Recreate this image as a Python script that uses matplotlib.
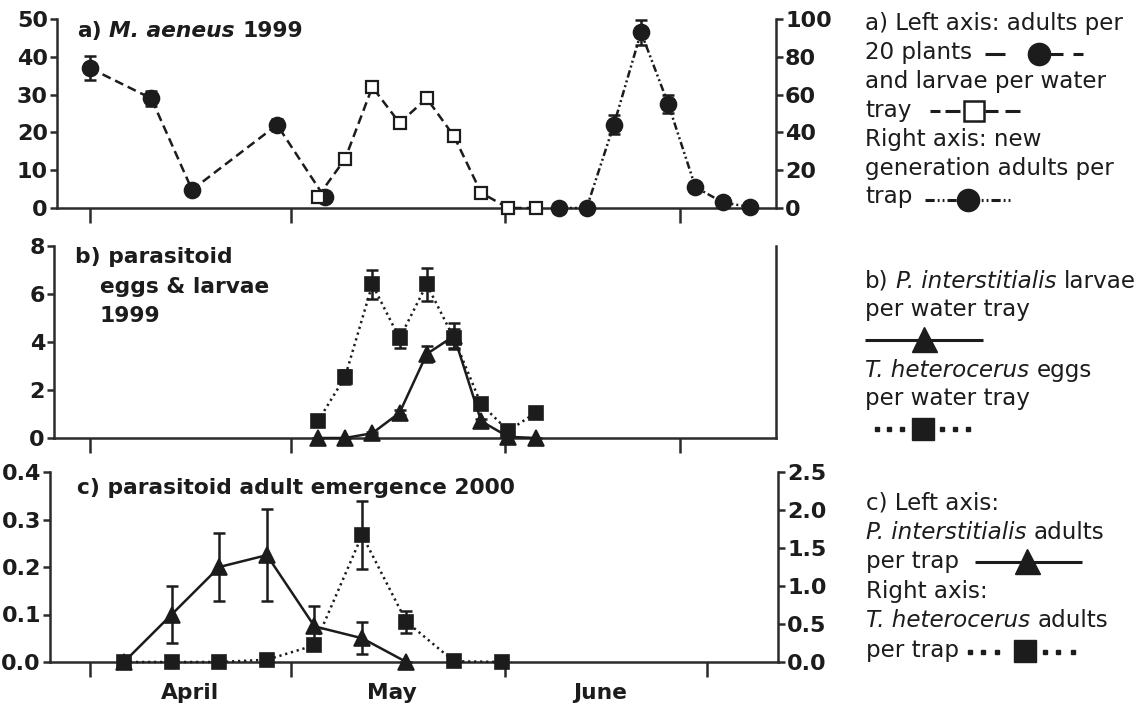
import matplotlib
matplotlib.use("Agg")
import matplotlib.pyplot as plt
from matplotlib.ticker import FormatStrFormatter

plt.rcParams['font.family'] = ['DejaVu Sans']
plt.rcParams['font.weight'] = 'bold'

W, H = 1142, 708
INK = '#1c1c1c'
SPINE = '#2b2b2b'
PX_DAY = 6.803   # pixels per day on the date axis
DAY0_PX = 90     # pixel column of 1 April
TICK_FS = 16

# x values are days after 1 April
# a) M. aeneus 1999
a_adult_day = [0, 9, 15, 27.5, 34.5]
a_adult = [37, 29, 4.8, 22, 2.8]
a_adult_err = [3.2, 2, 0.5, 1.5, 0.5]
a_larva_day = [33.5, 37.5, 41.5, 45.5, 49.5, 53.5, 57.5, 61.5, 65.5]
a_larva = [3, 13, 32, 22.5, 29, 19, 4, 0, 0]
a_larva_err = [0.4, 0.6, 1.0, 0.6, 1.0, 0.6, 0.3, 0, 0]
a_new_day = [69, 73, 77, 81, 85, 89, 93, 97]
a_new = [0, 0, 44, 93, 55, 11, 3, 0.5]
a_new_err = [0, 0, 5, 6.5, 5, 1.5, 0.5, 0]

# b) parasitoid eggs & larvae 1999
b_day = [33.5, 37.5, 41.5, 45.5, 49.5, 53.5, 57.5, 61.5, 65.5]
b_eggs = [0.7, 2.55, 6.4, 4.15, 6.4, 4.15, 1.4, 0.3, 1.05]
b_eggs_err = [0.05, 0.3, 0.6, 0.4, 0.7, 0.4, 0.2, 0.1, 0.05]
b_larva = [0, 0, 0.2, 1.05, 3.5, 4.25, 0.7, 0.05, 0]
b_larva_err = [0, 0, 0.05, 0.1, 0.35, 0.55, 0.1, 0, 0]

# c) parasitoid adult emergence 2000
c_pint_day = [5, 12, 19, 26, 33, 40, 46.5]
c_pint = [0, 0.1, 0.2, 0.225, 0.075, 0.05, 0]
c_pint_err = [0, 0.06, 0.072, 0.097, 0.042, 0.034, 0]
c_thet_day = [5, 12, 19, 26, 33, 40, 46.5, 53.5, 60.5]
c_thet = [0, 0, 0, 0.03, 0.22, 1.67, 0.53, 0.01, 0]
c_thet_err = [0, 0, 0, 0, 0.03, 0.45, 0.145, 0, 0]

month_ticks_ab = [0, 29.5, 61, 86.7]
month_ticks_c = [0, 29.5, 61, 90.7]
month_names = ['April', 'May', 'June']
month_mid = [14.7, 44.4, 75]

fig = plt.figure(figsize=(W / 100, H / 100), dpi=100)


def axes_px(l, r, t, b):
    ax = fig.add_axes([l / W, 1 - b / H, (r - l) / W, (b - t) / H])
    ax.set_xlim((l - DAY0_PX) / PX_DAY, (r - DAY0_PX) / PX_DAY)
    ax.set_facecolor('none')
    for s in ax.spines.values():
        s.set_linewidth(1.8)
        s.set_color(SPINE)
    ax.spines['top'].set_visible(False)
    ax.tick_params(axis='y', direction='out', length=5, width=1.8, pad=1.5,
                   labelsize=TICK_FS, color=SPINE, labelcolor=INK)
    ax.tick_params(axis='x', direction='out', length=11, width=1.8, color=SPINE)
    return ax


def twin(ax):
    ax2 = ax.twinx()
    ax.spines['right'].set_visible(False)
    for k in ['top', 'left', 'bottom']:
        ax2.spines[k].set_visible(False)
    ax2.spines['right'].set_linewidth(1.8)
    ax2.spines['right'].set_color(SPINE)
    ax2.tick_params(axis='y', direction='out', length=5, width=1.8, pad=1.5,
                    labelsize=TICK_FS, color=SPINE, labelcolor=INK)
    return ax2


def series(ax, x, y, err, marker, ms, ls, face=INK, mew=1.2):
    ax.errorbar(x, y, yerr=err, fmt='none', ecolor=INK, elinewidth=1.8,
                capsize=4.2, capthick=1.8, clip_on=False, zorder=2)
    ln, = ax.plot(x, y, color=INK, lw=1.8, marker=marker, ms=ms, mfc=face,
                  mec=INK, mew=mew, clip_on=False, zorder=3)
    if ls == 'solid':
        ln.set_linestyle('-')
    else:
        ln.set_dashes(ls)
    return ln


DASH = (3.6, 2.0)
DOT = (0.9, 1.5)
DASHDOTDOT = (3.0, 1.2, 0.8, 1.2, 0.8, 1.2)

# panel a
ax_a = axes_px(57, 776, 19, 208)
ax_a.set_ylim(0, 50)
ax_a.set_yticks([0, 10, 20, 30, 40, 50])
ax_a.set_xticks(month_ticks_ab)
ax_a.set_xticklabels([])
series(ax_a, a_adult_day, a_adult, a_adult_err, 'o', 11.5, DASH)
series(ax_a, a_larva_day, a_larva, a_larva_err, 's', 9, DASH, face='white', mew=1.6)
ax_a2 = twin(ax_a)
ax_a2.set_ylim(0, 100)
ax_a2.set_yticks([0, 20, 40, 60, 80, 100])
series(ax_a2, a_new_day, a_new, a_new_err, 'o', 11.5, DASHDOTDOT)

# panel b
ax_b = axes_px(54, 776, 246, 438)
ax_b.set_ylim(0, 8)
ax_b.set_yticks([0, 2, 4, 6, 8])
ax_b.set_xticks(month_ticks_ab)
ax_b.set_xticklabels([])
series(ax_b, b_day, b_larva, b_larva_err, '^', 11, 'solid')
series(ax_b, b_day, b_eggs, b_eggs_err, 's', 10.5, DOT)

# panel c
ax_c = axes_px(50, 778, 472, 662)
ax_c.set_ylim(0, 0.4)
ax_c.set_yticks([0, 0.1, 0.2, 0.3, 0.4])
ax_c.yaxis.set_major_formatter(FormatStrFormatter('%.1f'))
ax_c.set_xticks(month_ticks_c)
ax_c.set_xticklabels([])
ax_c.set_xticks(month_mid, minor=True)
ax_c.set_xticklabels(month_names, minor=True, fontsize=15.7, fontweight='bold', color=INK)
ax_c.tick_params(axis='x', which='minor', length=0, pad=15)
series(ax_c, c_pint_day, c_pint, c_pint_err, '^', 11, 'solid')
ax_c2 = twin(ax_c)
ax_c2.set_ylim(0, 2.5)
ax_c2.set_yticks([0, 0.5, 1.0, 1.5, 2.0, 2.5])
ax_c2.yaxis.set_major_formatter(FormatStrFormatter('%.1f'))
series(ax_c2, c_thet_day, c_thet, c_thet_err, 's', 10.5, DOT)

# overlay in pixel coordinates for titles and the key
ov = fig.add_axes([0, 0, 1, 1], zorder=10)
ov.set_xlim(0, W)
ov.set_ylim(H, 0)
ov.axis('off')
renderer = fig.canvas.get_renderer()


def text_w(s, size, style, weight):
    t = ov.text(0, 0, s, fontsize=size, fontstyle=style, fontweight=weight)
    w = t.get_window_extent(renderer).width
    t.remove()
    return w


def rich(x, y, parts, size, weight='normal'):
    for i, (s, style) in enumerate(parts):
        if i > 0:
            x += text_w('a a', size, style, weight) - text_w('aa', size, style, weight)
        t = ov.text(x, y, s, fontsize=size, fontstyle=style, fontweight=weight,
                    color=INK, va='baseline', ha='left')
        x += t.get_window_extent(renderer).width
    return x


N, I = 'normal', 'italic'
TS = 15.7
rich(77, 37, [('a)', N), ('M. aeneus', I), ('1999', N)], TS, 'bold')
rich(75, 263, [('b) parasitoid', N)], TS, 'bold')
rich(100, 293, [('eggs & larvae', N)], TS, 'bold')
rich(100, 322, [('1999', N)], TS, 'bold')
rich(77, 494, [('c) parasitoid adult emergence 2000', N)], TS, 'bold')

LS = 16.6
key_a = ['a) Left axis: adults per', '20 plants', 'and larvae per water', 'tray',
         'Right axis: new', 'generation adults per', 'trap']
for i, line in enumerate(key_a):
    rich(865, 30 + 28.9 * i, [(line, N)], LS)

key_b = [(288, [('b)', N), ('P. interstitialis', I), ('larvae', N)]),
         (316, [('per water tray', N)]),
         (377, [('T. heterocerus', I), ('eggs', N)]),
         (405, [('per water tray', N)])]
for y, parts in key_b:
    rich(865, y, parts, LS)

key_c = [(510, [('c) Left axis:', N)]),
         (539, [('P. interstitialis', I), ('adults', N)]),
         (568, [('per trap', N)]),
         (598, [('Right axis:', N)]),
         (627, [('T. heterocerus', I), ('adults', N)]),
         (657, [('per trap', N)])]
for y, parts in key_c:
    rich(866, y, parts, LS)

# key symbols
kw = dict(color=INK, lw=2.2, solid_capstyle='butt')
# a: adults per 20 plants
for x0, x1 in [(985, 1005), (1030, 1063), (1073, 1083)]:
    ov.plot([x0, x1], [54, 54], **kw)
ov.plot([1039], [54], marker='o', ms=16, color=INK)
# a: larvae per water tray
for x0, x1 in [(930, 940), (945, 960), (985, 998), (1005, 1020)]:
    ov.plot([x0, x1], [111, 111], **kw)
ov.plot([974], [111], marker='s', ms=14, mfc='white', mec=INK, mew=1.8)
# a: new generation adults per trap
ln, = ov.plot([925, 1013], [200, 200], **kw)
ln.set_dashes((3.0, 1.0, 0.6, 1.0, 0.6, 1.0))
ov.plot([968], [200], marker='o', ms=16, color=INK)
# b: larvae
ov.plot([865, 983], [340, 340], **kw)
ov.plot([924], [339], marker='^', ms=18, color=INK)
# b: eggs
ov.plot([877, 889, 902, 942, 955, 968], [429] * 6, ls='none', marker='s', ms=2.6, color=INK)
ov.plot([923], [429], marker='s', ms=16, color=INK)
# c: adults P. interstitialis
ov.plot([975, 1082], [562, 562], **kw)
ov.plot([1027], [561], marker='^', ms=18, color=INK)
# c: adults T. heterocerus
ov.plot([970, 983, 997, 1045, 1058, 1073], [652] * 6, ls='none', marker='s', ms=2.6, color=INK)
ov.plot([1025], [651], marker='s', ms=16, color=INK)

fig.savefig('out.png', dpi=100)
